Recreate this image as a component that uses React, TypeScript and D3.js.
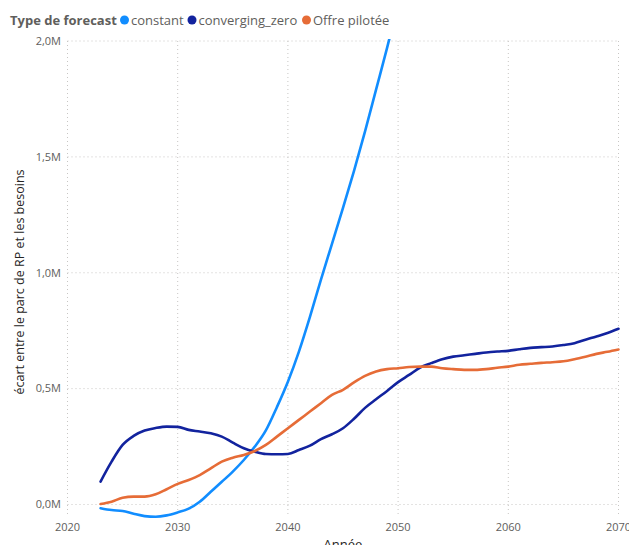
import React from "react";
import * as d3 from "d3";

const years: number[] = d3.range(2023, 2071);

const constantVals: number[] = [
  -0.016, -0.024, -0.028, -0.04, -0.05, -0.053, -0.047, -0.034, -0.018, 0.012,
  0.055, 0.098, 0.142, 0.192, 0.25, 0.32, 0.42, 0.53, 0.66, 0.81,
  0.97, 1.125, 1.28, 1.44, 1.61, 1.79, 1.97, 2.16,
];

const convergingVals: number[] = [
  0.099, 0.185, 0.257, 0.296, 0.319, 0.33, 0.336, 0.335, 0.322, 0.315,
  0.307, 0.293, 0.267, 0.243, 0.228, 0.218, 0.217, 0.218, 0.235, 0.254,
  0.282, 0.303, 0.329, 0.37, 0.417, 0.454, 0.49, 0.528, 0.559, 0.591,
  0.61, 0.627, 0.638, 0.644, 0.65, 0.656, 0.66, 0.663, 0.67, 0.676,
  0.679, 0.682, 0.688, 0.696, 0.711, 0.725, 0.74, 0.758,
];

const offreVals: number[] = [
  0.002, 0.012, 0.029, 0.034, 0.034, 0.044, 0.066, 0.089, 0.106, 0.127,
  0.156, 0.185, 0.202, 0.214, 0.231, 0.257, 0.293, 0.329, 0.365, 0.401,
  0.437, 0.473, 0.495, 0.527, 0.555, 0.574, 0.584, 0.588, 0.593, 0.595,
  0.595, 0.588, 0.584, 0.581, 0.581, 0.584, 0.59, 0.595, 0.603, 0.607,
  0.611, 0.614, 0.618, 0.627, 0.638, 0.65, 0.659, 0.669,
];

const seriesNames: string[] = ["constant", "converging_zero", "Offre pilotée"];
const seriesColors: string[] = ["#118DFF", "#12239E", "#E66C37"];
const xTicks: number[] = [2020, 2030, 2040, 2050, 2060, 2070];
const yTicks: number[] = [0, 0.5, 1.0, 1.5, 2.0];

const W = 629;
const H = 545;
const FONT = "'Open Sans', 'Noto Sans', sans-serif";

export default function App() {
  const x = d3.scaleLinear().domain([2020, 2070]).range([67.5, 618.5]);
  const y = d3.scaleLinear().domain([0, 2]).range([504.5, 41]);

  const allSeries = [constantVals, convergingVals, offreVals];
  const line = d3
    .line<[number, number]>()
    .x((d) => x(d[0]))
    .y((d) => y(d[1]))
    .curve(d3.curveMonotoneX);

  const fmtY = (v: number) => v.toFixed(1).replace(".", ",") + "M";

  const legendItems = [
    { cx: 124.5, tx: 131 },
    { cx: 192, tx: 198.5 },
    { cx: 306.5, tx: 313 },
  ];

  return (
    <svg
      width={W}
      height={H}
      style={{ position: "absolute", left: 0, top: 0, display: "block", background: "#fff" }}
      fontFamily={FONT}
    >
      <defs>
        <clipPath id="plotclip">
          <rect x={60} y={39} width={570} height={506} />
        </clipPath>
      </defs>

      {/* gridlines */}
      {yTicks.map((t) => (
        <line
          key={"gy" + t}
          x1={x(2020)}
          x2={x(2070)}
          y1={y(t)}
          y2={y(t)}
          stroke="#C8C6C4"
          strokeWidth={1}
          strokeDasharray="1 3"
        />
      ))}
      {xTicks.map((t) => (
        <line
          key={"gx" + t}
          x1={x(t)}
          x2={x(t)}
          y1={y(2)}
          y2={517}
          stroke="#C8C6C4"
          strokeWidth={1}
          strokeDasharray="1 3"
        />
      ))}

      {/* y tick labels */}
      {yTicks.map((t) => (
        <text
          key={"ty" + t}
          x={61}
          y={y(t)}
          dy="0.35em"
          textAnchor="end"
          fontSize={11}
          fill="#605E5C"
        >
          {fmtY(t)}
        </text>
      ))}

      {/* x tick labels */}
      {xTicks.map((t) => (
        <text
          key={"tx" + t}
          x={x(t)}
          y={531}
          textAnchor="middle"
          fontSize={11}
          fill="#605E5C"
        >
          {t}
        </text>
      ))}

      {/* axis titles */}
      <text
        transform={`translate(20,282) rotate(-90)`}
        textAnchor="middle"
        dy="0.35em"
        fontSize={12.5}
        fill="#252423"
      >
        écart entre le parc de RP et les besoins
      </text>
      <text x={343} y={549} textAnchor="middle" fontSize={13} fill="#252423">
        Année
      </text>

      {/* lines */}
      <g clipPath="url(#plotclip)">
        {allSeries.map((vals, i) => (
          <path
            key={seriesNames[i]}
            d={line(vals.map((v, j) => [years[j], v] as [number, number])) || ""}
            fill="none"
            stroke={seriesColors[i]}
            strokeWidth={2.6}
            strokeLinejoin="round"
            strokeLinecap="round"
          />
        ))}
      </g>

      {/* legend */}
      <text x={10} y={24.5} fontSize={13} fontWeight={700} fill="#605E5C">
        Type de forecast
      </text>
      {seriesNames.map((n, i) => (
        <g key={"lg" + n}>
          <circle cx={legendItems[i].cx} cy={20} r={4.5} fill={seriesColors[i]} />
          <text x={legendItems[i].tx} y={24.5} fontSize={13} fill="#605E5C">
            {n}
          </text>
        </g>
      ))}
    </svg>
  );
}
